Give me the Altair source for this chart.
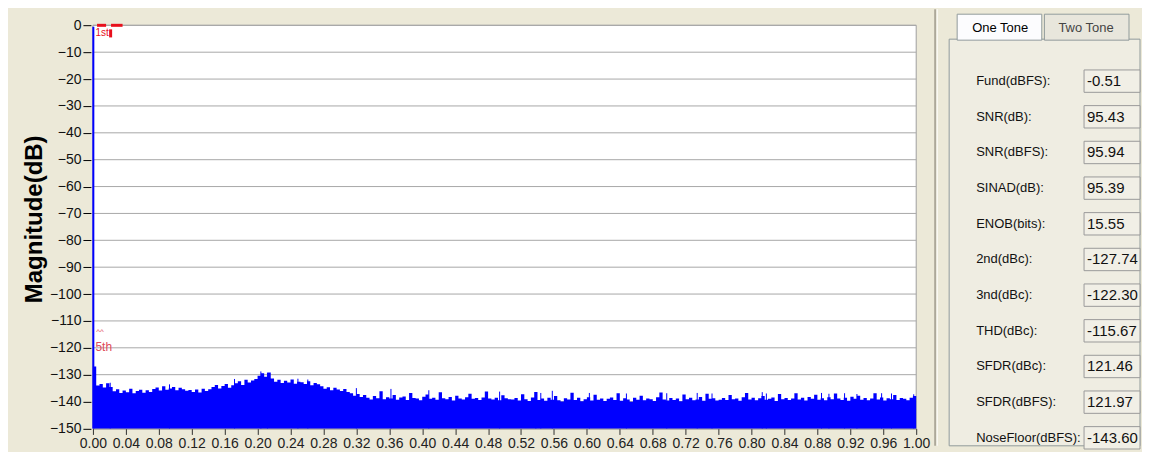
import altair as alt
import pandas as pd

# ---------------- data ----------------
BIN = 0.004  # width of one spectrum bin (normalised frequency)

# noise floor, one value per bin from 0.000 to 1.000 (dB)
noise_db = (
    [-127.0, -134.0]
    + [-133.5, -134.8, -133.2, -134.6]
    + [-136.2, -135.4, -136.8, -135.9, -136.5, -135.2, -136.9, -136.1, -135.6,
       -136.7, -135.8, -136.4, -135.3]
    + [-134.8, -135.9, -134.3, -135.6, -135.1, -134.6, -135.8, -134.9, -135.4, -136.0]
    + [-135.7, -136.4, -135.5, -136.6, -135.2, -136.1, -135.4]
    + [-134.6, -133.8, -135.1, -134.2, -133.5, -134.9, -133.9]
    + [-133.2, -132.4, -133.8, -131.9, -132.9, -132.2, -131.6]
    + [-130.4, -129.5, -130.8, -129.2]
    + [-131.4, -132.6, -131.9, -133.1, -132.3, -132.9, -131.8, -133.4, -132.6]
    + [-132.8, -133.5, -132.4, -133.9, -133.1, -133.6]
    + [-134.3, -135.2, -134.7, -135.8, -134.9, -135.5, -136.1, -135.3, -136.4]
    + [-136.9, -137.8, -137.2, -138.3, -137.6]
    + [-138.6, -139.2, -137.9, -138.8, -136.2, -139.1, -138.4, -138.9, -137.6, -139.3,
       -138.5, -138.1, -139.4, -136.8, -138.7, -138.9, -139.5, -138.2, -137.4, -139.0,
       -138.6, -139.3, -136.5, -138.8, -139.1, -138.3, -139.6, -137.8, -138.9, -139.2,
       -138.4, -137.1, -139.0, -138.7, -139.4, -138.5, -136.3, -138.9, -139.2, -138.6,
       -139.5, -137.7, -138.8, -139.1]
    + [-139.2, -138.7, -139.6, -137.3, -139.1, -139.8, -138.5, -136.4, -139.4, -138.9,
       -139.7, -138.6, -139.3, -137.9, -139.5, -140.0, -138.8, -139.2, -136.7, -139.4,
       -138.6, -139.9, -139.1, -138.4, -139.6, -137.5, -139.3, -138.9, -139.8, -139.0,
       -138.5, -139.4, -136.9, -139.7, -138.8, -139.2, -140.1, -138.6, -139.3, -137.8,
       -139.5, -138.9, -139.1, -139.8, -138.4, -136.6, -139.2, -139.6, -138.7, -139.4,
       -138.9, -139.9, -137.4, -139.1, -138.6, -139.5, -139.2, -138.3, -139.7, -137.1,
       -139.0, -138.8, -139.6, -139.3]
    + [-138.7, -139.4, -137.6, -139.1, -138.9, -139.7, -138.4, -136.8, -139.2, -138.6,
       -139.5, -138.8, -137.9, -139.3, -139.0, -138.5, -139.8, -137.2, -139.1, -138.7,
       -139.4, -138.9, -136.9, -139.2, -138.6, -139.6, -138.3, -139.0, -137.5, -139.3,
       -138.8, -139.5, -138.4, -139.1, -137.0, -138.9, -139.4, -138.6, -139.7, -138.2,
       -139.0, -137.8, -139.3, -138.7, -139.5, -138.9, -136.9, -139.2, -138.5, -139.6,
       -138.8, -139.1, -137.6, -139.4, -138.7, -139.0, -139.5, -138.6, -137.9]
)
assert len(noise_db) == 250

# narrow single-bin spikes sticking out of the floor
spike_freq = [0.021, 0.093, 0.172, 0.204, 0.212, 0.249, 0.261, 0.320, 0.362, 0.408,
              0.494, 0.538, 0.544, 0.558, 0.603, 0.648, 0.697, 0.734, 0.752, 0.813,
              0.818, 0.885, 0.894, 0.913, 0.928, 0.958, 0.970, 0.997]
spike_db = [-133.0, -133.6, -131.6, -128.8, -129.3, -131.5, -131.8, -135.0, -135.3, -135.8,
            -136.3, -136.6, -136.8, -136.0, -136.8, -137.0, -136.9, -136.8, -137.0, -136.5,
            -137.0, -136.8, -137.1, -136.9, -137.2, -136.9, -137.0, -137.3]

fund_freq = [0.0005]
fund_db = [-0.51]

x_ticks = [round(0.04 * i, 2) for i in range(26)]
y_ticks = list(range(0, -151, -10))
Y_MIN, Y_MAX, Y_TOP = -150, 0, 6

# harmonic markers
mark_text = ["1st", "5th", "^^"]
mark_freq = [0.003, 0.003, 0.004]
mark_db = [-0.9, -118.0, -112.5]
mark_size = [10, 12, 8]
mark_color = ["#e8101c", "#e04a5a", "#e04a5a"]
mrule_x = [0.005, 0.022, 0.0215]
mrule_x2 = [0.016, 0.036, 0.0215]
mrule_y = [0.0, 0.0, -1.5]
mrule_y2 = [0.0, 0.0, -4.5]

metric_labels = ["Fund(dBFS):", "SNR(dB):", "SNR(dBFS):", "SINAD(dB):", "ENOB(bits):",
                 "2nd(dBc):", "3nd(dBc):", "THD(dBc):", "SFDR(dBc):", "SFDR(dBFS):",
                 "NoseFloor(dBFS):"]
metric_values = ["-0.51", "95.43", "95.94", "95.39", "15.55", "-127.74", "-122.30",
                 "-115.67", "121.46", "121.97", "-143.60"]
tabs = ["One Tone", "Two Tone"]

FONT = "Liberation Sans"
BG = "#ECE9D8"
PANEL_W, PANEL_H = 207, 437

# ---------------- spectrum panel ----------------
freqs = [round(i * BIN, 4) for i in range(len(noise_db))] + [1.0]
noise_df = pd.DataFrame({"freq": freqs, "db": noise_db + [noise_db[-1]]})

xscale = alt.Scale(domain=[0, 1], nice=False, zero=False)
yscale = alt.Scale(domain=[Y_MIN, Y_TOP], nice=False, zero=False)

base = alt.Chart(pd.DataFrame({"k": [0]}))

plot_bg = base.mark_rect(fill="white", stroke="#a0a0a0", strokeWidth=1).encode(
    x=alt.datum(0, scale=xscale), x2=alt.datum(1),
    y=alt.datum(Y_MIN, scale=yscale), y2=alt.datum(Y_MAX),
)

grid = alt.Chart(pd.DataFrame({"g": y_ticks[:-1]})).mark_rule(
    color="#a8a8a8", strokeWidth=1).encode(
    x=alt.datum(0), x2=alt.datum(1), y=alt.Y("g:Q", scale=yscale))

noise = alt.Chart(noise_df).mark_area(interpolate="step-after", color="#0000ff").encode(
    x=alt.X("freq:Q", scale=xscale, title=None,
            axis=alt.Axis(values=x_ticks, tickCount=40, format=".2f", grid=False,
                          tickSize=6, labelPadding=2, domainColor="#707070",
                          tickColor="#303030", labelColor="#222222", labelFontSize=14,
                          labelFont=FONT, labelOverlap=False, labelFlush=False)),
    y=alt.Y("db:Q", scale=yscale, title="Magnitude(dB)",
            axis=alt.Axis(values=y_ticks, tickCount=40, grid=False, domain=False,
                          tickSize=8, offset=2, labelPadding=2, tickColor="#000000",
                          labelColor="#111111", labelFontSize=14, labelFont=FONT,
                          labelOverlap=False,
                          titleFont=FONT, titleFontSize=24, titleFontWeight="bold",
                          titleColor="#000000", titlePadding=3)),
    y2=alt.datum(Y_MIN),
)

spikes = alt.Chart(pd.DataFrame({"freq": spike_freq, "db": spike_db})).mark_rule(
    color="#0000ff", strokeWidth=1).encode(x="freq:Q", y="db:Q", y2=alt.datum(Y_MIN))

fund = alt.Chart(pd.DataFrame({"freq": fund_freq, "db": fund_db})).mark_rule(
    color="#0000ff", strokeWidth=2).encode(x="freq:Q", y="db:Q", y2=alt.datum(Y_MIN))

marks_df = pd.DataFrame({"t": mark_text, "f": mark_freq, "d": mark_db,
                         "s": mark_size, "c": mark_color})
markers = alt.Chart(marks_df).mark_text(align="left", baseline="top", font=FONT).encode(
    x="f:Q", y="d:Q", text="t:N",
    size=alt.Size("s:Q", scale=None, legend=None),
    color=alt.Color("c:N", scale=None, legend=None))

mrules = alt.Chart(pd.DataFrame({"x": mrule_x, "x2": mrule_x2, "y": mrule_y, "y2": mrule_y2})
                   ).mark_rule(color="#e8101c", strokeWidth=3).encode(
    x="x:Q", x2="x2:Q", y="y:Q", y2="y2:Q")

spectrum = alt.layer(plot_bg, grid, noise, spikes, fund, mrules, markers).properties(
    width=824, height=419.6)

# ---------------- results panel ----------------
panel_df = pd.DataFrame({"label": metric_labels, "value": metric_values})
yrow = alt.Y("label:N", sort=metric_labels, axis=None,
             scale=alt.Scale(type="point", range=[72, 429], padding=0))

frame = base.mark_rect(fill="#EFEDE2", stroke="#919B9C", strokeWidth=1).encode(
    x=alt.value(15), x2=alt.value(PANEL_W - 1), y=alt.value(30), y2=alt.value(PANEL_H))

sep = base.mark_rule(color="#ACA899", strokeWidth=2).encode(
    x=alt.value(1), y=alt.value(0), y2=alt.value(PANEL_H))
sep2 = base.mark_rule(color="#FFFFFF", strokeWidth=1).encode(
    x=alt.value(3), y=alt.value(0), y2=alt.value(PANEL_H))

tab_df = pd.DataFrame({"tab": tabs, "active": [1, 0]})
tab_x = alt.X("tab:N", sort=tabs, axis=None,
              scale=alt.Scale(range=[23, 195], paddingInner=0.03, paddingOuter=0))
tab_rects = alt.Chart(tab_df).mark_bar(stroke="#919B9C", strokeWidth=1).encode(
    x=tab_x,
    y=alt.value(5), y2=alt.value(31),
    fill=alt.condition("datum.active == 1", alt.value("#FCFCFE"), alt.value("#E8E6DC")),
)
tab_text = alt.Chart(tab_df).mark_text(font=FONT, fontSize=13, baseline="middle").encode(
    x=tab_x, y=alt.value(19),
    color=alt.condition("datum.active == 1", alt.value("#000000"), alt.value("#444444")),
    text="tab:N")

box_shape = "M-1,-0.4 L1,-0.4 L1,0.4 L-1,0.4 Z"
boxes = alt.Chart(panel_df).mark_point(shape=box_shape, size=3136, filled=True,
                                       fill="#F1EFE6", stroke="#9A9A9A", strokeWidth=1,
                                       opacity=1).encode(
    x=alt.value(178), y=yrow)
labels = alt.Chart(panel_df).mark_text(align="left", baseline="middle", font=FONT,
                                       fontSize=13, color="#111111").encode(
    x=alt.value(42), y=yrow, text="label:N")
values = alt.Chart(panel_df).mark_text(align="left", baseline="middle", font=FONT,
                                       fontSize=15, color="#111111").encode(
    x=alt.value(153), y=yrow, text="value:N")

panel = alt.layer(sep, sep2, frame, tab_rects, tab_text, boxes, labels, values).properties(
    width=PANEL_W, height=PANEL_H).resolve_scale(x="independent", y="independent")

chart = alt.hconcat(spectrum, panel, spacing=18, bounds="flush").properties(
    background=BG, padding={"left": 14, "top": 0, "right": 0, "bottom": 0}
).configure_view(stroke=None, fill=None).configure_axis(labelOverlap=False)

chart.save("out.html", embed_options={"renderer": "svg", "actions": False})
